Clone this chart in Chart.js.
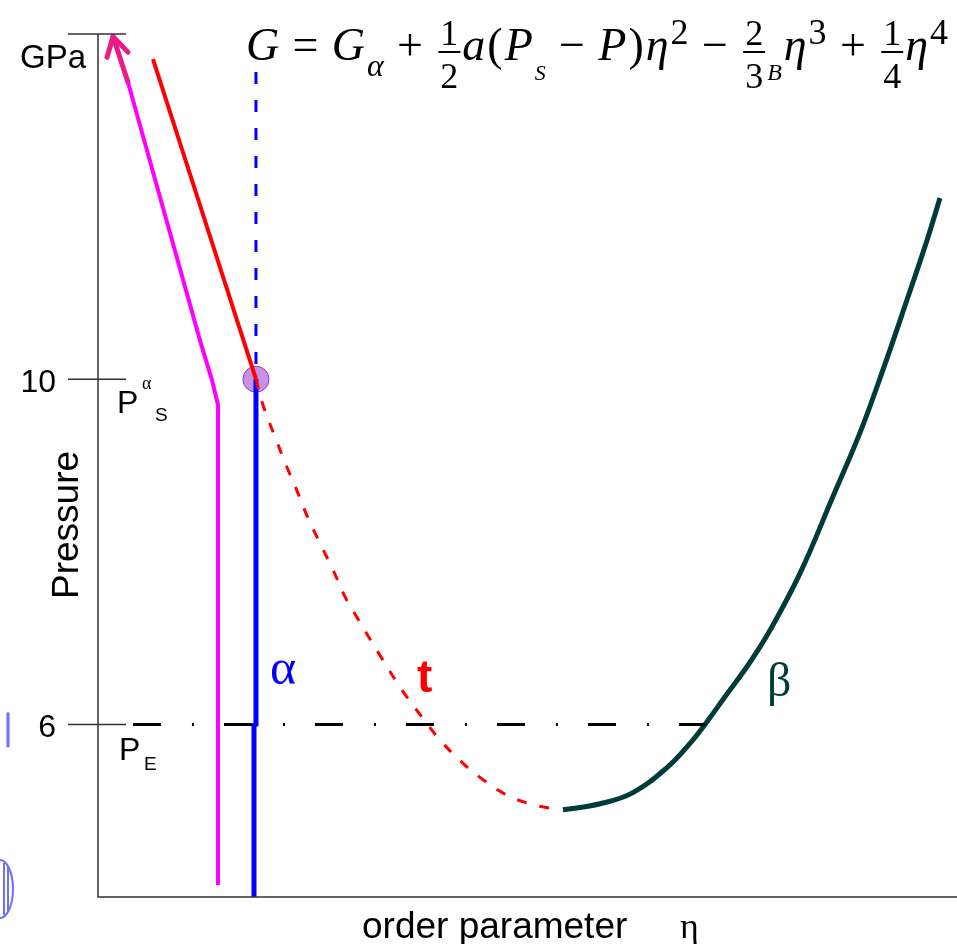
<!DOCTYPE html>
<html>
<head>
<meta charset="utf-8">
<script src="https://cdn.jsdelivr.net/npm/chart.js@4.4.0/dist/chart.umd.min.js"></script>
<style>
  body { margin: 0; background: #fff; }
  #wrap { width: 957px; height: 944px; }
</style>
</head>
<body>
<div id="wrap"><canvas id="chart" width="957" height="944"></canvas></div>
<script>
// pressure axis (GPa) and the marked levels
const yTicks = [14, 10, 6];
const yTickLabels = ['GPa', '10', '6'];

// magenta path (loading), with the arrow at its top
const magentaX = [3.49, 11.87, 13.27, 13.97, 13.97];
const magentaY = [13.44, 10.45, 9.99, 9.70, 4.14];
const arrowX = [3.49, 1.75];
const arrowY = [13.44, 13.97];
const arrowHeadX = [1.05, 1.75, 3.49];
const arrowHeadY = [13.73, 13.97, 13.79];

// red solid line above P_S
const redX = [6.40, 18.39];
const redY = [13.71, 10.00];

// alpha phase: dashed above P_S, solid below
const alphaDashX = [18.39, 18.39];
const alphaDashY = [13.56, 10.00];
const alphaX = [18.39, 18.39, 18.16, 18.16];
const alphaY = [10.00, 6.00, 5.99, 4.00];

// t branch (dashed red) down to the minimum
const tX = [18.39, 19.21, 20.61, 22.00, 23.28, 24.45, 25.84, 27.36, 28.75, 30.15, 32.83,
  35.51, 37.83, 39.81, 42.37, 44.82, 47.61, 50.64, 53.78];
const tY = [10.00, 9.70, 9.33, 8.98, 8.68, 8.39, 8.10, 7.79, 7.48, 7.24, 6.80,
  6.38, 6.07, 5.82, 5.56, 5.36, 5.18, 5.07, 5.01];

// beta branch
const betaX = [54.13, 58.44, 62.28, 66.24, 68.92, 70.66, 72.99, 75.90, 78.23, 81.72,
  85.56, 88.71, 91.39, 94.18, 96.51, 98.02];
const betaY = [5.01, 5.08, 5.21, 5.50, 5.78, 6.00, 6.32, 6.72, 7.09, 7.75,
  8.64, 9.38, 10.11, 10.92, 11.61, 12.10];

// equilibrium pressure P_E line
const peX = [4.07, 70.66];
const peY = [6, 6];

// P_S point
const psX = [18.39];
const psY = [10];

function pts(xs, ys) {
  return xs.map((x, i) => ({ x: x, y: ys[i] }));
}

function line(xs, ys, color, width, dash, extra) {
  return Object.assign({
    data: pts(xs, ys),
    showLine: true,
    borderColor: color,
    borderWidth: width,
    borderDash: dash || [],
    pointRadius: 0,
    fill: false,
    tension: 0
  }, extra || {});
}

// axes, ticks, labels and the formula are drawn here
const decor = {
  id: 'decor',
  afterDatasetsDraw(chart) {
    const ctx = chart.ctx;
    const ys = chart.scales.y;
    const a = chart.chartArea;
    ctx.save();

    // axis lines
    ctx.strokeStyle = '#333';
    ctx.lineWidth = 1.5;
    ctx.beginPath();
    ctx.moveTo(a.left, a.top);
    ctx.lineTo(a.left, a.bottom);
    ctx.lineTo(a.right, a.bottom);
    ctx.stroke();

    // tick marks crossing the axis + labels
    ctx.fillStyle = '#000';
    ctx.textAlign = 'right';
    ctx.textBaseline = 'alphabetic';
    yTicks.forEach((v, i) => {
      const py = ys.getPixelForValue(v);
      ctx.beginPath();
      ctx.moveTo(a.left - 30, py);
      ctx.lineTo(a.left + 28, py);
      ctx.stroke();
      if (i === 0) {
        ctx.font = '33px "Liberation Sans"';
        ctx.fillText(yTickLabels[i], a.left - 12, py + 34);
      } else {
        ctx.font = '32px "Liberation Sans"';
        ctx.fillText(yTickLabels[i], a.left - 42, py + 13);
      }
    });

    // P_S^alpha and P_E
    ctx.textAlign = 'left';
    let py = ys.getPixelForValue(10);
    ctx.font = '32px "Liberation Sans"';
    ctx.fillText('P', a.left + 19, py + 34);
    ctx.font = '18px "Liberation Serif"';
    ctx.fillText('\u03b1', a.left + 44, py + 10);
    ctx.font = '19px "Liberation Sans"';
    ctx.fillText('S', a.left + 57, py + 42);
    py = ys.getPixelForValue(6);
    ctx.font = '32px "Liberation Sans"';
    ctx.fillText('P', a.left + 21, py + 36);
    ctx.font = '19px "Liberation Sans"';
    ctx.fillText('E', a.left + 46, py + 46);

    // leftover slide marks at the left edge
    ctx.strokeStyle = '#6f6fff';
    ctx.lineWidth = 3;
    ctx.beginPath();
    ctx.moveTo(8, py - 12);
    ctx.lineTo(8, py + 23);
    ctx.stroke();
    ctx.lineWidth = 2;
    ctx.beginPath();
    ctx.ellipse(0, 889, 13, 29, 0, -Math.PI / 2, Math.PI / 2);
    ctx.moveTo(4, 863); ctx.lineTo(4, 915);
    ctx.moveTo(8, 866); ctx.lineTo(8, 912);
    ctx.stroke();

    // axis titles
    ctx.fillStyle = '#000';
    ctx.font = '37px "Liberation Sans"';
    ctx.save();
    ctx.translate(68, 525);
    ctx.rotate(-Math.PI / 2);
    ctx.textAlign = 'center';
    ctx.textBaseline = 'middle';
    ctx.fillText('Pressure', 0, 0);
    ctx.restore();
    ctx.textAlign = 'left';
    ctx.font = '37px "Liberation Sans"';
    ctx.fillText('order parameter', 362, a.bottom + 41);
    ctx.font = '36px "Liberation Serif"';
    ctx.fillText('\u03b7', 680, a.bottom + 41);

    // phase labels
    ctx.font = '50px "Liberation Serif"';
    ctx.fillStyle = '#0000ff';
    ctx.fillText('\u03b1', 270, 684);
    ctx.fillStyle = '#ff0000';
    ctx.font = 'bold 46px "Liberation Sans"';
    ctx.fillText('t', 417, 692);
    ctx.fillStyle = '#003b3b';
    ctx.font = '48px "Liberation Serif"';
    ctx.fillText('\u03b2', 767, 696);

    // the Landau expansion
    drawFormula(ctx, 246, 950, 60);
    ctx.restore();
  }
};

// formula pieces: text, font, baseline shift; 'gap' marks spacing around operators
const IT = 'italic 46px "Liberation Serif"';
const RM = '46px "Liberation Serif"';
const SUP = '36px "Liberation Serif"';
const formulaParts = [
  ['G', IT, 0], 'gap', ['=', RM, 0], 'gap', ['G', IT, 0],
  ['\u03b1', 'italic 32px "Liberation Serif"', 16], 'gap', ['+', RM, 0], 'gap',
  ['frac', '1', '2'], ['a', IT, 0], ['(', RM, 0], ['P', IT, 0],
  ['S', 'italic 22px "Liberation Serif"', 20], 'gap', ['\u2212', RM, 0], 'gap',
  ['P', IT, 0], [')', RM, 0], ['\u03b7', IT, 0], ['2', SUP, -16], 'gap',
  ['\u2212', RM, 0], 'gap', ['frac', '2', '3'],
  ['B', 'italic 24px "Liberation Serif"', 20], ['\u03b7', IT, 0], ['3', SUP, -16], 'gap',
  ['+', RM, 0], 'gap', ['frac', '1', '4'], ['\u03b7', IT, 0], ['4', SUP, -16]
];

function pieceWidth(ctx, p) {
  if (p[0] === 'frac') {
    ctx.font = SUP;
    return Math.max(ctx.measureText(p[1]).width, ctx.measureText(p[2]).width) + 8;
  }
  ctx.font = p[1];
  return ctx.measureText(p[0]).width + 2;
}

function drawFormula(ctx, x0, x1, base) {
  let natural = 0;
  let gaps = 0;
  formulaParts.forEach(p => {
    if (p === 'gap') gaps++;
    else natural += pieceWidth(ctx, p);
  });
  const gap = Math.max(2, (x1 - x0 - natural) / gaps);
  let x = x0;
  ctx.fillStyle = '#000';
  ctx.strokeStyle = '#000';
  ctx.textBaseline = 'alphabetic';
  formulaParts.forEach(p => {
    if (p === 'gap') { x += gap; return; }
    const w = pieceWidth(ctx, p);
    if (p[0] === 'frac') {
      ctx.font = SUP;
      ctx.textAlign = 'center';
      ctx.fillText(p[1], x + w / 2, base - 15);
      ctx.fillText(p[2], x + w / 2, base + 28);
      ctx.lineWidth = 2;
      ctx.beginPath();
      ctx.moveTo(x + 2, base - 8);
      ctx.lineTo(x + w - 2, base - 8);
      ctx.stroke();
    } else {
      ctx.font = p[1];
      ctx.textAlign = 'left';
      ctx.fillText(p[0], x, base + p[2]);
    }
    x += w;
  });
}

const ctx = document.getElementById('chart').getContext('2d');
const chart = new Chart(ctx, {
  type: 'scatter',
  data: {
    datasets: [
      line(peX, peY, '#000', 3, [28, 31, 2, 30]),
      line(magentaX, magentaY, '#ff00ff', 4),
      line(arrowX, arrowY, '#ec1a86', 5, [], { borderCapStyle: 'round' }),
      line(arrowHeadX, arrowHeadY, '#ec1a86', 5, [], { borderCapStyle: 'round' }),
      line(redX, redY, '#ff0000', 4),
      line(alphaDashX, alphaDashY, '#0000ff', 3, [12, 16]),
      line(tX, tY, '#ff0000', 3, [10, 13], { tension: 0.4 }),
      line(betaX, betaY, '#003b3b', 5, [], { tension: 0.4 }),
      line(alphaX, alphaY, '#0000ff', 5),
      {
        data: pts(psX, psY),
        pointRadius: 13,
        pointBackgroundColor: 'rgba(160, 70, 215, 0.6)',
        pointBorderColor: '#9933cc',
        pointBorderWidth: 1
      }
    ]
  },
  options: {
    responsive: false,
    animation: false,
    layout: { autoPadding: false, padding: { left: 98, right: 0, top: 34, bottom: 47 } },
    plugins: { legend: { display: false }, tooltip: { enabled: false } },
    scales: {
      x: { type: 'linear', min: 0, max: 100, display: false },
      y: { type: 'linear', min: 4, max: 14, display: false }
    },
    elements: { line: { borderCapStyle: 'butt' } }
  },
  plugins: [decor]
});
</script>
</body>
</html>
